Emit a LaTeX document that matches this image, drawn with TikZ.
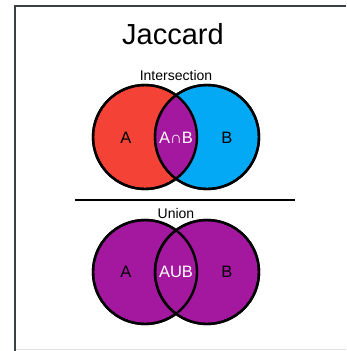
\documentclass[tikz,border=0pt]{standalone}
\usepackage{fontspec}
\setmainfont{Liberation Sans}
\definecolor{setred}{HTML}{F44336}
\definecolor{setblue}{HTML}{03A9F4}
\definecolor{setpurple}{HTML}{A3189E}
\definecolor{framegray}{HTML}{3C4043}
\begin{document}
\begin{tikzpicture}[x=1pt,y=-1pt,
  setcircle/.style={circle,minimum size=104pt,inner sep=0pt,line width=2.4pt,draw=black},
  setlabel/.style={font=\fontsize{16.5}{16.5}\selectfont,text=black},
  midlabel/.style={font=\fontsize{16.5}{16.5}\selectfont,text=white},
  caption/.style={font=\fontsize{14}{14}\selectfont}]
\useasboundingbox (0,0) rectangle (346,351);
% outer frame
\draw[framegray,line width=2pt] (346,5.5) -- (14.5,5.5) -- (14.5,351);
\draw[black!12,line width=1pt] (15.5,349.5) -- (346,349.5);
% title
\node[font=\fontsize{29}{29}\selectfont] (title) at (173,34) {Jaccard};
% intersection diagram
\node[caption] (capI) at (176,75) {Intersection};
\node[setcircle,fill=setred] (iA) at (145,137) {};
\node[setcircle,fill=setblue] (iB) at (207,137) {};
\begin{scope}
  \clip (145,137) circle (52);
  \fill[setpurple] (207,137) circle (52);
\end{scope}
\draw[line width=2.4pt] (145,137) circle (52);
\draw[line width=2.4pt] (207,137) circle (52);
\node[setlabel] (lA1) at (126,138) {A};
\node[midlabel] (lAB1) at (176,138) {A∩B};
\node[setlabel] (lB1) at (227,138) {B};
% separator
\coordinate (sepL) at (75,200);
\coordinate (sepR) at (295,200);
\draw[line width=2pt] (sepL) -- (sepR);
% union diagram
\node[caption] (capU) at (176,213) {Union};
\node[setcircle,fill=setpurple] (uA) at (145,272) {};
\node[setcircle,fill=setpurple] (uB) at (207,272) {};
\draw[line width=2.4pt] (145,272) circle (52);
\draw[line width=2.4pt] (207,272) circle (52);
\node[setlabel] (lA2) at (126,272) {A};
\node[midlabel] (lAB2) at (176,272) {AUB};
\node[setlabel] (lB2) at (227,272) {B};
\end{tikzpicture}
\end{document}
